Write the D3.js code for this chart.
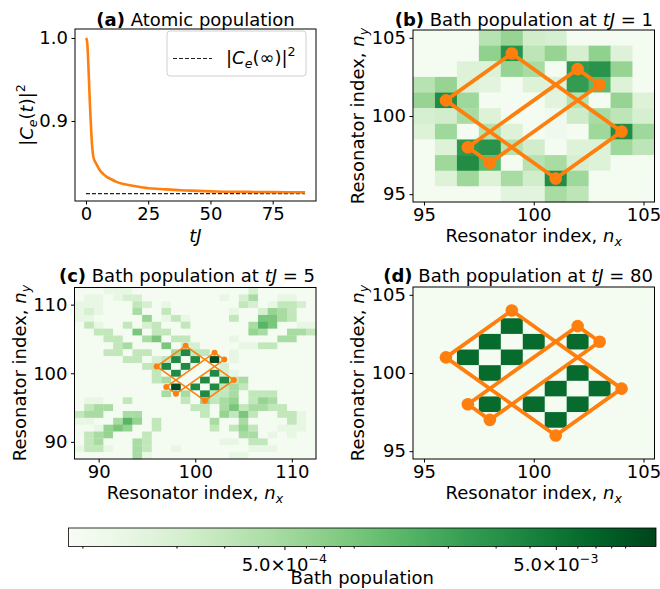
<!DOCTYPE html>
<html>
<head>
<meta charset="utf-8">
<script src="https://cdn.jsdelivr.net/npm/d3@7"></script>
<style>
body { margin: 0; background: #fff; }
svg { display: block; font-family: 'DejaVu Sans', sans-serif; }
</style>
</head>
<body>
<svg id="fig" width="660" height="589"></svg>
<script>
// ---- panel (a): atomic population ----
const tVals = [0, 0.4, 0.8, 1.2, 1.6, 2.0, 2.4, 2.9, 3.5, 4.2, 5.5, 7, 8.2, 10, 12, 15, 18.7, 25, 30, 38, 45, 52, 65, 75, 88];
const popVals = [1.0, 0.997, 0.98, 0.95, 0.92, 0.895, 0.873, 0.858, 0.852, 0.848, 0.841, 0.836, 0.833, 0.830, 0.827, 0.824, 0.822, 0.819, 0.818, 0.8165, 0.8158, 0.815, 0.8146, 0.8143, 0.814];
const asymT = [0, 88];
const asymVal = 0.8124;
const aXTicks = [0, 25, 50, 75];
const aYTicks = [0.9, 1.0];

// ---- giant-atom coupling points (two rectangles) ----
const rect1X = [96, 99, 104, 101];
const rect1Y = [101, 104, 99, 96];
const rect2X = [97, 102, 103, 98];
const rect2Y = [98, 103, 102, 97];

// ---- panel (b): bath population at tJ = 1, rows ny = 105 .. 95, cols nx = 95 .. 105 ----
const bathT1 = [
  [9e-5, 9e-5, 9e-5, 3.6e-4, 5.9e-4, 2.2e-4, 2e-4, 9e-5, 9e-5, 9e-5, 9e-5],
  [9e-5, 9e-5, 9e-5, 6.5e-4, 2.9e-3, 3.2e-4, 5.9e-4, 2e-4, 6.5e-4, 1.7e-4, 9e-5],
  [9e-5, 9e-5, 1.7e-4, 1.7e-4, 5.9e-4, 4.6e-4, 9e-5, 2.6e-3, 2.9e-3, 5.9e-4, 9e-5],
  [3.6e-4, 5.9e-4, 1.7e-4, 1.5e-4, 9e-5, 1.7e-4, 1.7e-4, 2.4e-3, 1.24e-3, 1.7e-4, 9e-5],
  [5.9e-4, 3.4e-3, 5.3e-4, 9e-5, 9e-5, 9e-5, 1.5e-4, 3.6e-4, 9e-5, 5.9e-4, 1.7e-4],
  [2e-4, 2.2e-4, 4.6e-4, 1.7e-4, 9e-5, 9e-5, 1e-4, 2.4e-4, 4.6e-4, 3.2e-4, 2e-4],
  [1.7e-4, 5.3e-4, 9e-5, 3.6e-4, 1.7e-4, 9e-5, 1e-4, 9e-5, 5.3e-4, 3.4e-3, 5.3e-4],
  [9e-5, 1.7e-4, 2.6e-3, 2.9e-3, 3.6e-4, 2.2e-4, 9e-5, 1.7e-4, 1.7e-4, 5.3e-4, 3.2e-4],
  [9e-5, 5.3e-4, 3.4e-3, 1.24e-3, 9e-5, 3.6e-4, 4.6e-4, 2e-4, 1.7e-4, 9e-5, 9e-5],
  [9e-5, 1.7e-4, 5.3e-4, 1.7e-4, 4.6e-4, 2.2e-4, 3.4e-3, 5.3e-4, 9e-5, 9e-5, 9e-5],
  [9e-5, 9e-5, 9e-5, 9e-5, 1.5e-4, 1.5e-4, 4.6e-4, 3.2e-4, 9e-5, 9e-5, 9e-5]
];

// ---- panel (c): bath population at tJ = 5, rows ny = 112 .. 88, cols nx = 88 .. 112 ----
const bathT5 = [
  [9e-5,9e-5,9e-5,1.3e-4,1.3e-4,1.3e-4,9e-5,9e-5,9e-5,9e-5,9e-5,9e-5,9e-5,9e-5,9e-5,9e-5,9e-5,9e-5,2e-4,9e-5,9e-5,9e-5,9e-5,9e-5,9e-5],
  [9e-5,1.3e-4,1.3e-4,9e-5,1.3e-4,2e-4,2e-4,9e-5,9e-5,9e-5,9e-5,9e-5,9e-5,9e-5,9e-5,1.3e-4,9e-5,2e-4,4.5e-4,9e-5,9e-5,1.3e-4,1.3e-4,9e-5,9e-5],
  [1.3e-4,1.3e-4,1.3e-4,9e-5,9e-5,9e-5,3e-4,2e-4,9e-5,1.3e-4,9e-5,9e-5,9e-5,9e-5,9e-5,9e-5,9e-5,3e-4,2e-4,9e-5,1.3e-4,3e-4,3e-4,2e-4,9e-5],
  [1.3e-4,2e-4,1.3e-4,9e-5,9e-5,9e-5,4.5e-4,9e-5,9e-5,3e-4,9e-5,9e-5,9e-5,9e-5,9e-5,9e-5,1.3e-4,9e-5,9e-5,2e-4,6e-4,4.5e-4,3e-4,9e-5,9e-5],
  [1.3e-4,1.3e-4,9e-5,9e-5,9e-5,9e-5,9e-5,6e-4,9e-5,1.3e-4,3e-4,1.3e-4,9e-5,9e-5,9e-5,9e-5,3e-4,9e-5,9e-5,9e-4,9e-4,4.5e-4,3e-4,9e-5,9e-5],
  [9e-5,3e-4,1.3e-4,9e-5,9e-5,3e-4,9e-5,2e-4,3e-4,9e-5,9e-5,3e-4,9e-5,9e-5,9e-5,9e-5,9e-5,9e-5,4.5e-4,1.4e-3,9e-4,9e-5,9e-5,1.3e-4,1.3e-4],
  [9e-5,9e-5,3e-4,3e-4,9e-5,9e-5,9e-4,9e-5,3e-4,3e-4,9e-5,9e-5,9e-5,9e-5,9e-5,9e-5,9e-5,9e-5,6e-4,4.5e-4,9e-5,9e-5,4.5e-4,4.5e-4,3e-4],
  [9e-5,9e-5,9e-5,3e-4,3e-4,9e-5,9e-5,4.5e-4,9e-4,9e-5,3e-4,3e-4,9e-5,9e-5,9e-5,9e-5,1.3e-4,9e-5,9e-5,9e-5,9e-5,4.5e-4,4.5e-4,9e-5,9e-5],
  [9e-5,9e-5,9e-5,9e-5,3e-4,4.5e-4,9e-5,9e-5,9e-5,9e-4,9e-5,2e-4,2e-4,9e-5,9e-5,9e-5,9e-5,1.3e-4,1.3e-4,3e-4,3e-4,9e-5,9e-5,9e-5,9e-5],
  [9e-5,9e-5,9e-5,3e-4,3e-4,9e-5,3e-4,3e-4,9e-5,9e-5,4.5e-4,3.5e-3,3e-4,3e-4,9e-5,9e-5,1.3e-4,9e-5,9e-5,9e-5,9e-5,9e-5,9e-5,9e-5,9e-5],
  [9e-5,9e-5,9e-5,9e-5,9e-5,3e-4,3e-4,9e-5,2e-4,3e-4,3.5e-3,9e-5,3.5e-3,9e-5,1e-2,9e-5,1.3e-4,9e-5,9e-5,9e-5,9e-5,9e-5,9e-5,9e-5,9e-5],
  [9e-5,9e-5,9e-5,9e-5,9e-5,9e-5,9e-5,3e-4,3e-4,3.5e-3,9e-5,3.5e-3,9e-5,9e-5,9e-5,2e-4,9e-5,9e-5,9e-5,9e-5,9e-5,9e-5,9e-5,9e-5,9e-5],
  [9e-5,9e-5,9e-5,9e-5,9e-5,9e-5,9e-5,9e-5,3e-4,9e-5,3.5e-3,9e-5,9e-5,9e-5,3.5e-3,2e-4,1.3e-4,9e-5,9e-5,9e-5,9e-5,9e-5,9e-5,9e-5,9e-5],
  [9e-5,9e-5,9e-5,9e-5,9e-5,9e-5,9e-5,9e-5,3e-4,4.5e-4,9e-5,9e-5,9e-5,3.5e-3,9e-5,3.5e-3,3e-4,4.5e-4,9e-5,9e-5,9e-5,9e-5,9e-5,9e-5,9e-5],
  [9e-5,9e-5,9e-5,9e-5,9e-5,9e-5,9e-5,9e-5,9e-5,9e-5,1e-2,9e-5,3.5e-3,9e-5,3.5e-3,3e-4,4.5e-4,3e-4,9e-5,9e-5,9e-5,9e-5,9e-5,9e-5,9e-5],
  [9e-5,9e-5,9e-5,9e-5,9e-5,9e-5,9e-5,9e-5,9e-5,4.5e-4,9e-5,4.5e-4,9e-5,3.5e-3,3e-4,3e-4,4.5e-4,9e-5,3e-4,3e-4,3e-4,9e-5,9e-5,9e-5,9e-5],
  [9e-5,1.3e-4,1.3e-4,9e-5,9e-5,3e-4,9e-5,9e-5,9e-5,9e-5,9e-5,3e-4,9e-5,6e-4,3e-4,4.5e-4,6e-4,9e-5,3e-4,6e-4,4.5e-4,9e-5,9e-5,9e-5,9e-5],
  [9e-5,3e-4,4.5e-4,4.5e-4,9e-5,9e-5,9e-5,9e-5,9e-5,9e-5,9e-5,9e-5,3e-4,3e-4,9e-5,4.5e-4,9e-4,3e-4,4.5e-4,4.5e-4,3e-4,3e-4,9e-5,9e-5,9e-5],
  [3e-4,4.5e-4,4.5e-4,9e-5,9e-5,4.5e-4,4.5e-4,9e-5,9e-5,9e-5,9e-5,9e-5,9e-5,3e-4,9e-5,6e-4,3e-4,9e-4,3e-4,9e-5,9e-5,3e-4,3e-4,1.3e-4,9e-5],
  [1.3e-4,1.3e-4,9e-5,9e-5,4.5e-4,1.4e-3,6e-4,9e-5,3e-4,9e-5,9e-5,9e-5,9e-5,9e-5,4.5e-4,9e-5,9e-5,4.5e-4,9e-5,9e-5,9e-5,9e-5,3e-4,1.3e-4,9e-5],
  [9e-5,9e-5,1.3e-4,6e-4,9e-4,6e-4,9e-5,9e-5,3e-4,9e-5,9e-5,9e-5,9e-5,9e-5,3e-4,9e-5,3e-4,6e-4,3e-4,9e-5,9e-5,1.3e-4,1.3e-4,1.3e-4,9e-5],
  [9e-5,3e-4,4.5e-4,6e-4,9e-5,9e-5,9e-5,3e-4,9e-5,9e-5,9e-5,9e-5,9e-5,9e-5,9e-5,9e-5,9e-5,4.5e-4,4.5e-4,9e-5,1.3e-4,9e-5,1.3e-4,9e-5,9e-5],
  [9e-5,3e-4,4.5e-4,9e-5,9e-5,9e-5,4.5e-4,3e-4,9e-5,9e-5,9e-5,9e-5,9e-5,9e-5,9e-5,1.3e-4,1.3e-4,9e-5,3e-4,3e-4,9e-5,9e-5,9e-5,9e-5,9e-5],
  [1.3e-4,3e-4,3e-4,1.3e-4,9e-5,9e-5,4.5e-4,3e-4,9e-5,9e-5,1.3e-4,9e-5,9e-5,9e-5,9e-5,9e-5,9e-5,9e-5,1.3e-4,1.3e-4,1.3e-4,9e-5,9e-5,9e-5,9e-5],
  [9e-5,9e-5,9e-5,9e-5,9e-5,9e-5,4.5e-4,1.3e-4,9e-5,9e-5,9e-5,9e-5,9e-5,9e-5,9e-5,9e-5,1.3e-4,1.3e-4,9e-5,9e-5,9e-5,9e-5,9e-5,9e-5,9e-5]
];

// ---- panel (d): bath population at tJ = 80, rows ny = 105 .. 95, cols nx = 95 .. 105 ----
const bathT80 = [
  [9e-5, 9e-5, 9e-5, 9e-5, 9e-5, 9e-5, 9e-5, 9e-5, 9e-5, 9e-5, 9e-5],
  [9e-5, 9e-5, 9e-5, 9e-5, 9e-5, 9e-5, 9e-5, 9e-5, 9e-5, 9e-5, 9e-5],
  [9e-5, 9e-5, 9e-5, 9e-5, 6.3e-3, 9e-5, 9e-5, 9e-5, 9e-5, 9e-5, 9e-5],
  [9e-5, 9e-5, 9e-5, 6.3e-3, 9e-5, 6.3e-3, 9e-5, 6.3e-3, 9e-5, 9e-5, 9e-5],
  [9e-5, 9e-5, 6.3e-3, 9e-5, 6.3e-3, 9e-5, 9e-5, 9e-5, 9e-5, 9e-5, 9e-5],
  [9e-5, 9e-5, 9e-5, 6.3e-3, 9e-5, 9e-5, 9e-5, 6.3e-3, 9e-5, 9e-5, 9e-5],
  [9e-5, 9e-5, 9e-5, 9e-5, 9e-5, 9e-5, 6.3e-3, 9e-5, 6.3e-3, 9e-5, 9e-5],
  [9e-5, 9e-5, 9e-5, 6.3e-3, 9e-5, 6.3e-3, 9e-5, 6.3e-3, 9e-5, 9e-5, 9e-5],
  [9e-5, 9e-5, 9e-5, 9e-5, 9e-5, 9e-5, 6.3e-3, 9e-5, 9e-5, 9e-5, 9e-5],
  [9e-5, 9e-5, 9e-5, 9e-5, 9e-5, 9e-5, 9e-5, 9e-5, 9e-5, 9e-5, 9e-5],
  [9e-5, 9e-5, 9e-5, 9e-5, 9e-5, 9e-5, 9e-5, 9e-5, 9e-5, 9e-5, 9e-5]
];

// ---- colorbar ----
const cbDomain = [8e-5, 1.17e-2];
const cbMajor = [5e-4, 5e-3];
const cbMajorExp = ['\u22124', '\u22123'];
const cbMinor = [9e-5, 2e-4, 3e-4, 4e-4, 6e-4, 7e-4, 8e-4, 9e-4, 2e-3, 3e-3, 4e-3, 6e-3, 7e-3, 8e-3, 9e-3];

const ORANGE = '#ff7f0e';
const FS = 18;
const svg = d3.select('#fig');
const color = d3.scaleSequentialLog(d3.interpolateGreens).domain(cbDomain).clamp(true);

// text with mathtext-like pieces
function rich(x, y, anchor, parts, rotate) {
    const t = svg.append('text')
        .attr('x', x).attr('y', y)
        .attr('text-anchor', anchor)
        .attr('font-size', FS)
        .attr('fill', '#000');
    if (rotate) t.attr('transform', `rotate(-90,${x},${y})`);
    parts.forEach(p => {
        const s = t.append('tspan').text(p.t);
        if (p.i) s.attr('font-style', 'italic');
        if (p.b) s.attr('font-weight', 'bold');
        if (p.fs) s.attr('font-size', p.fs);
        if (p.dy) s.attr('dy', p.dy);
    });
    return t;
}

function styleAxis(g) {
    g.select('.domain').remove();
    g.selectAll('.tick line').attr('stroke', '#000').attr('stroke-width', 1);
    g.selectAll('.tick text').attr('font-size', FS).attr('font-family', "'DejaVu Sans', sans-serif").attr('fill', '#000');
}

function frame(box) {
    svg.append('rect')
        .attr('x', box.x0).attr('y', box.y0)
        .attr('width', box.x1 - box.x0).attr('height', box.y1 - box.y0)
        .attr('fill', 'none').attr('stroke', '#000').attr('stroke-width', 1);
}

const nxLabel = [{t: 'Resonator index, '}, {t: 'n', i: true}, {t: 'x', i: true, fs: 12.6, dy: 4}];
const nyLabel = [{t: 'Resonator index, '}, {t: 'n', i: true}, {t: 'y', i: true, fs: 12.6, dy: 4}];

// ================= panel (a) =================
const pa = {x0: 75, x1: 316, y0: 29, y1: 201};
const ax = d3.scaleLinear().domain([-4.4, 92.4]).range([pa.x0, pa.x1]);
const ay = d3.scaleLinear().domain([0.8036, 1.0108]).range([pa.y1, pa.y0]);

svg.append('path')
    .datum(asymT)
    .attr('fill', 'none')
    .attr('stroke', '#222')
    .attr('stroke-width', 1.2)
    .attr('stroke-dasharray', '4,2')
    .attr('d', d3.line().x(d => ax(d)).y(() => ay(asymVal)));

svg.append('path')
    .datum(tVals.map((t, i) => [t, popVals[i]]))
    .attr('fill', 'none')
    .attr('stroke', ORANGE)
    .attr('stroke-width', 2.6)
    .attr('d', d3.line().x(d => ax(d[0])).y(d => ay(d[1])).curve(d3.curveMonotoneX));

frame(pa);
svg.append('g').attr('transform', `translate(0,${pa.y1})`)
    .call(d3.axisBottom(ax).tickValues(aXTicks).tickSize(3.5).tickPadding(2.5).tickFormat(d3.format('d')))
    .call(styleAxis);
svg.append('g').attr('transform', `translate(${pa.x0},0)`)
    .call(d3.axisLeft(ay).tickValues(aYTicks).tickSize(3.5).tickPadding(3.5).tickFormat(d3.format('.1f')))
    .call(styleAxis);

// legend
svg.append('rect')
    .attr('x', 167).attr('y', 31).attr('width', 139).attr('height', 45).attr('rx', 3)
    .attr('fill', '#fff').attr('fill-opacity', 0.8)
    .attr('stroke', '#d0d0d0').attr('stroke-width', 1);
svg.append('line')
    .attr('x1', 173).attr('x2', 212).attr('y1', 58.5).attr('y2', 58.5)
    .attr('stroke', '#222').attr('stroke-width', 1.2).attr('stroke-dasharray', '4,2');
rich(226, 64, 'start', [
    {t: '|'}, {t: 'C', i: true}, {t: 'e', i: true, fs: 12.6, dy: 4},
    {t: '(\u221e)|', dy: -4}, {t: '2', fs: 12.6, dy: -8}
]);

rich(195.5, 25.7, 'middle', [{t: '(a)', b: true}, {t: ' Atomic population'}]);
rich(195.5, 242, 'middle', [{t: 'tJ', i: true}]);
rich(33, 115, 'middle', [
    {t: '|'}, {t: 'C', i: true}, {t: 'e', i: true, fs: 12.6, dy: 4},
    {t: '(', dy: -4}, {t: 't', i: true}, {t: ')|'}, {t: '2', fs: 12.6, dy: -8}
], true);

// ================= heat-map panels =================
function heatPanel(box, lo, hi, grid, ticks, lw, r) {
    const x = d3.scaleLinear().domain([lo - 0.5, hi + 0.5]).range([box.x0, box.x1]);
    const y = d3.scaleLinear().domain([lo - 0.5, hi + 0.5]).range([box.y1, box.y0]);
    const cells = [];
    grid.forEach((row, ri) => row.forEach((v, ci) => cells.push({nx: lo + ci, ny: hi - ri, v})));
    const g = svg.append('g');
    g.selectAll('rect.cell')
        .data(cells)
        .enter()
        .append('rect')
        .attr('class', 'cell')
        .attr('x', d => x(d.nx - 0.5))
        .attr('y', d => y(d.ny + 0.5))
        .attr('width', d => x(d.nx + 0.5) - x(d.nx - 0.5) + 0.3)
        .attr('height', d => y(d.ny - 0.5) - y(d.ny + 0.5) + 0.3)
        .attr('fill', d => color(d.v));

    const line = d3.line().x(d => x(d[0])).y(d => y(d[1]));
    [[rect1X, rect1Y], [rect2X, rect2Y]].forEach(([xs, ys]) => {
        const pts = xs.map((v, i) => [v, ys[i]]);
        pts.push(pts[0]);
        g.append('path')
            .attr('d', line(pts))
            .attr('fill', 'none')
            .attr('stroke', ORANGE)
            .attr('stroke-width', lw)
            .attr('stroke-linejoin', 'round');
    });
    const dots = rect1X.map((v, i) => [v, rect1Y[i]]).concat(rect2X.map((v, i) => [v, rect2Y[i]]));
    g.selectAll('circle')
        .data(dots)
        .enter()
        .append('circle')
        .attr('cx', d => x(d[0]))
        .attr('cy', d => y(d[1]))
        .attr('r', r)
        .attr('fill', ORANGE);

    frame(box);
    svg.append('g').attr('transform', `translate(0,${box.y1})`)
        .call(d3.axisBottom(x).tickValues(ticks).tickSize(3.5).tickPadding(2.5).tickFormat(d3.format('d')))
        .call(styleAxis);
    svg.append('g').attr('transform', `translate(${box.x0},0)`)
        .call(d3.axisLeft(y).tickValues(ticks).tickSize(3.5).tickPadding(3.5).tickFormat(d3.format('d')))
        .call(styleAxis);
}

const pb = {x0: 413, x1: 654.5, y0: 30, y1: 202};
const pc = {x0: 74.5, x1: 316, y0: 287.5, y1: 459};
const pd = {x0: 413, x1: 654.5, y0: 287, y1: 459};

heatPanel(pb, 95, 105, bathT1, [95, 100, 105], 3.8, 6.3);
heatPanel(pc, 88, 112, bathT5, [90, 100, 110], 1.6, 3);
heatPanel(pd, 95, 105, bathT80, [95, 100, 105], 3.8, 6.3);

rich(653, 25.7, 'end', [{t: '(b)', b: true}, {t: ' Bath population at '}, {t: 'tJ', i: true}, {t: ' = 1'}]);
rich(315, 282.3, 'end', [{t: '(c)', b: true}, {t: ' Bath population at '}, {t: 'tJ', i: true}, {t: ' = 5'}]);
rich(653, 282.3, 'end', [{t: '(d)', b: true}, {t: ' Bath population at '}, {t: 'tJ', i: true}, {t: ' = 80'}]);

rich(533.7, 242, 'middle', nxLabel);
rich(195, 499, 'middle', nxLabel);
rich(533.7, 499, 'middle', nxLabel);
rich(363.5, 116, 'middle', nyLabel, true);
rich(25.5, 373, 'middle', nyLabel, true);
rich(363.5, 373, 'middle', nyLabel, true);

// ================= colorbar =================
const cb = {x0: 68.5, x1: 656, y0: 528, y1: 546.5};
const cbx = d3.scaleLog().domain(cbDomain).range([cb.x0, cb.x1]);
const grad = svg.append('defs').append('linearGradient').attr('id', 'cbgrad');
d3.range(0, 1.0001, 0.025).forEach(f => {
    grad.append('stop').attr('offset', f).attr('stop-color', d3.interpolateGreens(f));
});
svg.append('rect')
    .attr('x', cb.x0).attr('y', cb.y0)
    .attr('width', cb.x1 - cb.x0).attr('height', cb.y1 - cb.y0)
    .attr('fill', 'url(#cbgrad)')
    .attr('stroke', '#000').attr('stroke-width', 0.8);

svg.append('g').attr('transform', `translate(0,${cb.y1})`)
    .call(d3.axisBottom(cbx).tickValues(cbMinor).tickSize(2).tickFormat(''))
    .call(styleAxis);
svg.append('g').attr('transform', `translate(0,${cb.y1})`)
    .call(d3.axisBottom(cbx).tickValues(cbMajor).tickSize(3.5).tickFormat(''))
    .call(styleAxis);
cbMajor.forEach((v, i) => {
    rich(cbx(v), 570.5, 'middle', [{t: '5.0\u00d710'}, {t: cbMajorExp[i], fs: 12.6, dy: -8}]);
});
rich((cb.x0 + cb.x1) / 2, 584.3, 'middle', [{t: 'Bath population'}]);
</script>
</body>
</html>
